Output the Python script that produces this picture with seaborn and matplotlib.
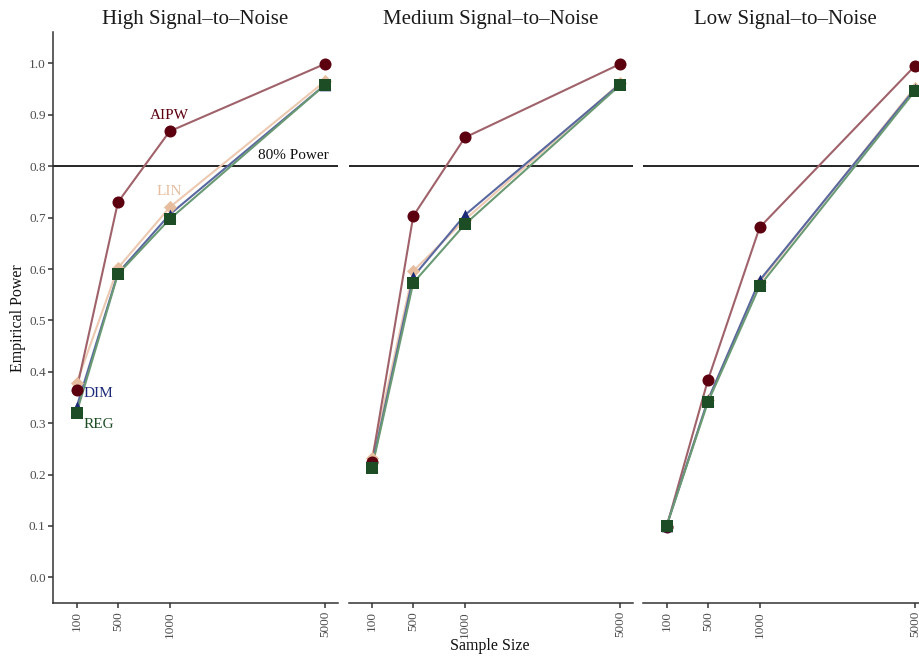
import numpy as np
import pandas as pd
import matplotlib
matplotlib.use("Agg")
import matplotlib.pyplot as plt
import matplotlib.transforms as mtransforms
import seaborn as sns

# Simulation results: empirical power by estimator, sample size and signal level
sample_sizes = [100, 500, 1000, 5000]
tick_labels = ["100", "500", "1000", "5000"]
panels = ["High Signal\u2013to\u2013Noise", "Medium Signal\u2013to\u2013Noise", "Low Signal\u2013to\u2013Noise"]
methods = ["LIN", "AIPW", "DIM", "REG"]

power_high = {
    "AIPW": [0.365, 0.730, 0.868, 0.999],
    "LIN":  [0.378, 0.602, 0.720, 0.965],
    "DIM":  [0.331, 0.592, 0.706, 0.958],
    "REG":  [0.320, 0.590, 0.697, 0.958],
}
power_medium = {
    "AIPW": [0.224, 0.703, 0.856, 0.999],
    "LIN":  [0.232, 0.596, 0.696, 0.962],
    "DIM":  [0.216, 0.585, 0.705, 0.960],
    "REG":  [0.212, 0.573, 0.687, 0.958],
}
power_low = {
    "AIPW": [0.098, 0.384, 0.681, 0.995],
    "LIN":  [0.100, 0.345, 0.575, 0.953],
    "DIM":  [0.100, 0.345, 0.578, 0.950],
    "REG":  [0.100, 0.341, 0.567, 0.946],
}
target_power = 0.8

point_colors = {"AIPW": "#5c0010", "LIN": "#e6bd9e", "DIM": "#1b2a78", "REG": "#1d4d24"}
line_colors = {"AIPW": "#a0626a", "LIN": "#ecc9b0", "DIM": "#5a68a0", "REG": "#6a9a74"}
markers = {"AIPW": "o", "LIN": "D", "DIM": "^", "REG": "s"}
marker_sizes = {"AIPW": 75, "LIN": 45, "DIM": 70, "REG": 75}

rows = []
for panel, table in zip(panels, [power_high, power_medium, power_low]):
    for m in methods:
        for n, p in zip(sample_sizes, table[m]):
            rows.append({"panel": panel, "method": m, "n": n, "power": p})
df = pd.DataFrame(rows)

sns.set_theme(style="white")
plt.rcParams["font.family"] = ["Liberation Serif", "DejaVu Serif"]


# Linear up to 1000, compressed beyond it
def fwd(x):
    x = np.asarray(x, dtype=float)
    return np.where(x <= 1000, x, 1000 + (x - 1000) * 0.375)


def inv(y):
    y = np.asarray(y, dtype=float)
    return np.where(y <= 1000, y, 1000 + (y - 1000) / 0.375)


W, H = 919, 659
fig = plt.figure(figsize=(W / 100, H / 100), dpi=100)
lefts = [53.3, 348.6, 643.3]
pw, ph = 284.4, 571.0
bottom = H - 603.3

axes = []
for i, (panel, left) in enumerate(zip(panels, lefts)):
    ax = fig.add_axes([left / W, bottom / H, pw / W, ph / H])
    axes.append(ax)
    ax.set_xscale("function", functions=(fwd, inv))
    sub = df[df.panel == panel]

    ax.axhline(target_power, color="black", lw=1.2, zorder=1)

    sns.lineplot(data=sub, x="n", y="power", hue="method", hue_order=methods,
                 palette=line_colors, lw=1.5, legend=False, ax=ax, zorder=2)
    for m in methods:
        s = sub[sub.method == m]
        sns.scatterplot(data=s, x="n", y="power", color=point_colors[m],
                        marker=markers[m], s=marker_sizes[m], linewidth=0,
                        legend=False, ax=ax, zorder=3)

    ax.set_xlim(-125, inv(2625))
    ax.set_ylim(-0.0506, 1.0607)
    ax.set_xticks(sample_sizes)
    ax.set_xticklabels(tick_labels, rotation=90, fontsize=9.5, color="#4d4d4d")
    ax.set_xlabel("")
    ax.set_ylabel("")
    ax.set_title(panel, fontsize=15, color="#1a1a1a", pad=6)
    ax.tick_params(axis="x", bottom=True, length=3.5, width=1.1, color="#333333", pad=2)

    for side in ["top", "right"]:
        ax.spines[side].set_visible(False)
    ax.spines["bottom"].set_color("#333333")
    ax.spines["bottom"].set_linewidth(1.1)
    if i == 0:
        ax.spines["left"].set_color("#333333")
        ax.spines["left"].set_linewidth(1.1)
        ax.set_yticks(np.round(np.arange(0, 1.01, 0.1), 1))
        ax.set_yticklabels([f"{v:.1f}" for v in np.arange(0, 1.01, 0.1)],
                           fontsize=9.5, color="#4d4d4d")
        ax.tick_params(axis="y", left=True, length=3.5, width=1.1, color="#333333", pad=2)
    else:
        ax.spines["left"].set_visible(False)
        ax.set_yticks([])

# Estimator labels and the reference line label in the first panel
ax0 = axes[0]
ax0.text(1000, 0.899, "AIPW", color=point_colors["AIPW"], fontsize=11, ha="center", va="center")
ax0.text(1000, 0.750, "LIN", color=point_colors["LIN"], fontsize=11, ha="center", va="center")
ax0.text(170, 0.358, "DIM", color=point_colors["DIM"], fontsize=11, ha="left", va="center")
ax0.text(170, 0.298, "REG", color=point_colors["REG"], fontsize=11, ha="left", va="center")
blend = mtransforms.blended_transform_factory(ax0.transAxes, ax0.transData)
ax0.text(0.969, target_power + 0.008, "80% Power", transform=blend,
         fontsize=11, ha="right", va="bottom", color="#111111")

fig.text(18 / W, 1 - 318 / H, "Empirical Power", rotation=90, fontsize=11.5,
         ha="center", va="center", color="#111111")
fig.text(490 / W, 1 - 646 / H, "Sample Size", fontsize=11.5,
         ha="center", va="center", color="#111111")

fig.savefig("out.png", dpi=100)
